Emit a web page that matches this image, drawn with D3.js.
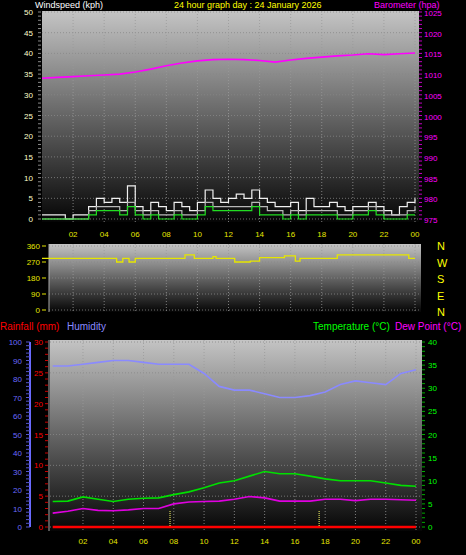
<!DOCTYPE html><html><head><meta charset="utf-8">
<script src="https://cdn.jsdelivr.net/npm/d3@7"></script>
<style>body{margin:0;background:#000}svg{display:block;font-family:"Liberation Sans",Arial,sans-serif}</style>
</head><body><svg id="c" width="466" height="555"></svg><script>
const hourTicks=[2,4,6,8,10,12,14,16,18,20,22,24];
const halfHours=d3.range(0,24.01,0.5);
const hours=d3.range(0,25);
const windGust=[1,1,1,0,1,1,3,5,4,5,4,8,3,2,4,3,2,4,3,2,4,7,5,4,5,6,5,7,5,4,3,3,4,2,5,3,3,4,3,2,3,3,4,3,2,1,3,4,5];
const windAvg=[0,0,0,0,0,0,2,3,3,3,2,4,2,1,2,1,1,2,1,1,2,4,3,3,3,3,3,4,3,2,2,1,2,1,2,2,2,2,1,1,2,2,3,2,1,1,1,2,3];
const windGreen=[0,0,0,0,0,0,1,2,2,2,1,3,1,0,1,0,0,1,0,0,1,3,2,2,2,2,2,3,1,1,1,0,1,0,1,1,1,1,0,0,1,1,2,1,0,0,0,1,1];
const baro=[1009,1009.2,1009.4,1009.6,1009.8,1010,1010.5,1011.2,1012,1012.7,1013.2,1013.5,1013.6,1013.5,1013.3,1012.9,1013.4,1013.8,1014.1,1014.4,1014.6,1014.9,1014.7,1014.9,1015.1];
const dirT=[0,4.8,5.2,5.6,6,9.2,9.8,11,11.2,12.4,13.4,14,15.6,16.3,16.6,19,23.6,24];
const dirV=[290,270,290,270,290,310,290,300,290,270,275,295,305,275,290,310,290,290];
const humidity=[87,87,88,89,90,90,89,88,88,88,83,76,74,74,72,70,70,71,73,77,79,78,77,83,85];
const temperature=[5.5,5.6,6.5,6,5.5,6,6.2,6.3,7,7.6,8.5,9.5,10,11,12,11.5,11.5,11,10.4,10,10,10,9.5,9,8.8];
const dewPoint=[3,3.4,4,3.6,3.5,3.7,4,4,5,5.4,5.5,5.6,6,6.6,6.3,5.6,5.6,5.6,6,6,5.7,6,6,5.9,5.8];
const rainfall=hours.map(()=>0);
const svg=d3.select("#c");
const defs=svg.append("defs");
const g=defs.append("linearGradient").attr("id","bg").attr("x1",0).attr("y1",0).attr("x2",0).attr("y2",1);
g.append("stop").attr("offset","0%").attr("stop-color","#c4c4c4");
g.append("stop").attr("offset","100%").attr("stop-color","#050505");
const fmtH=h=>d3.format("02")(h%24);
function panel(x0,x1,y0,y1,xl,xr,yTicks,yScale,xs){
  svg.append("rect").attr("x",xl).attr("y",y0).attr("width",xr-xl).attr("height",y1-y0).attr("fill","url(#bg)");
  svg.append("g").selectAll("line").data(yTicks).join("line").attr("x1",xl).attr("x2",xr).attr("y1",d=>yScale(d)).attr("y2",d=>yScale(d)).attr("stroke","#888").attr("stroke-dasharray","1,2").attr("stroke-width",0.8);
  svg.append("g").selectAll("line").data(hourTicks).join("line").attr("x1",d=>xs(d)).attr("x2",d=>xs(d)).attr("y1",y0).attr("y2",y1).attr("stroke","#999").attr("stroke-dasharray","1,2").attr("stroke-width",0.8);
}
function xLabels(xs,y){svg.append("g").selectAll("text").data(hourTicks).join("text").attr("x",d=>xs(d)).attr("y",y).attr("text-anchor","middle").attr("fill","#e6e600").attr("font-size",8).text(fmtH);}
function yLabels(ticks,ys,x,anchor,col,off){off=off||3;svg.append("g").selectAll("text").data(ticks).join("text").attr("x",x).attr("y",d=>ys(d)+off).attr("text-anchor",anchor).attr("fill",col).attr("font-size",8).text(d=>d);}
function minorTicks(ticks,ys,x,dx,col){svg.append("g").selectAll("line").data(ticks).join("line").attr("x1",x).attr("x2",x+dx).attr("y1",d=>ys(d)).attr("y2",d=>ys(d)).attr("stroke",col).attr("stroke-width",1);}
// ---- top panel
const x1=d3.scaleLinear().domain([0,24]).range([42,415]);
const yW=d3.scaleLinear().domain([0,50]).range([219,12]);
const yB=d3.scaleLinear().domain([975,1025]).range([219,12]);
panel(0,0,11,222,42,419,d3.range(0,51,5),yW,x1);
minorTicks(d3.range(0,51,1),yW,38,3,"#888");
minorTicks(d3.range(975,1026,1),yB,419,3,"#c000c0");
yLabels(d3.range(0,51,5),yW,33,"end","#ffffcc");
yLabels(d3.range(975,1026,5),yB,424,"start","#ff00ff",4);
xLabels(x1,237);
const stepW=d3.line().x((d,i)=>x1(halfHours[i])).y(d=>yW(d)).curve(d3.curveStepAfter);
svg.append("path").attr("d",stepW(windGust)).attr("fill","none").attr("stroke","#f0f0f0").attr("stroke-width",1.2);
svg.append("path").attr("d",stepW(windAvg)).attr("fill","none").attr("stroke","#b8b8b8").attr("stroke-width",1.2);
svg.append("path").attr("d",stepW(windGreen)).attr("fill","none").attr("stroke","#22dd22").attr("stroke-width",1.2);
svg.append("path").attr("d",d3.line().x((d,i)=>x1(hours[i])).y(d=>yB(d))(baro)).attr("fill","none").attr("stroke","#ff00ff").attr("stroke-width",1.6);
svg.append("text").attr("x",35).attr("y",8).attr("fill","#fff").attr("font-size",9).text("Windspeed (kph)");
svg.append("text").attr("x",174).attr("y",8).attr("fill","#ffff00").attr("font-size",9).text("24 hour graph day : 24 January 2026");
svg.append("text").attr("x",374).attr("y",8).attr("fill","#ff00ff").attr("font-size",9).text("Barometer (hpa)");
// ---- direction panel
const yD=d3.scaleLinear().domain([0,360]).range([310,246]);
panel(0,0,244,312,49,421,[0,90,180,270,360],yD,x1);
svg.append("line").attr("x1",49).attr("x2",49).attr("y1",244).attr("y2",312).attr("stroke","#aaa");
yLabels([0,90,180,270,360],yD,40,"end","#e6e600");
minorTicks([0,90,180,270,360],yD,42,4,"#e6e600");
svg.append("path").attr("d",d3.line().x((d,i)=>x1(dirT[i])).y(d=>yD(d)).curve(d3.curveStepAfter)(dirV)).attr("fill","none").attr("stroke","#e6e600").attr("stroke-width",1.3);
svg.append("g").selectAll("text").data(["N","W","S","E","N"]).join("text").attr("x",437).attr("y",(d,i)=>250+i*16.5).attr("fill","#ffff00").attr("font-size",11).text(d=>d);
// ---- bottom panel
const x3=d3.scaleLinear().domain([0,24]).range([52.7,416]);
const yH=d3.scaleLinear().domain([0,100]).range([527,342]);
const yT=d3.scaleLinear().domain([0,40]).range([527,342]);
const yR=d3.scaleLinear().domain([0,30]).range([527,342]);
panel(0,0,340,531,50,422,d3.range(0,31,5),yR,x3);
svg.append("line").attr("x1",30).attr("x2",30).attr("y1",342).attr("y2",527).attr("stroke","#6a6aff").attr("stroke-width",2);
svg.append("line").attr("x1",49).attr("x2",49).attr("y1",340).attr("y2",531).attr("stroke","#aaa");
minorTicks(d3.range(0,101,2),yH,26,4,"#5555cc");
minorTicks(d3.range(0,31,1),yR,45,3,"#cc0000");
minorTicks(d3.range(0,41,1),yT,422,3,"#00aa00");
yLabels(d3.range(0,101,10),yH,22,"end","#6a6aff");
yLabels(d3.range(0,31,5),yR,43,"end","#ff0000");
yLabels(d3.range(0,41,5),yT,428,"start","#00ff00");
xLabels(x3,544);
const lh=s=>d3.line().x((d,i)=>x3(hours[i])).y(d=>s(d));
svg.append("path").attr("d",lh(yH)(humidity)).attr("fill","none").attr("stroke","#8a8aff").attr("stroke-width",1.6);
svg.append("path").attr("d",lh(yT)(temperature)).attr("fill","none").attr("stroke","#00e000").attr("stroke-width",1.6);
svg.append("path").attr("d",lh(yT)(dewPoint)).attr("fill","none").attr("stroke","#e000e0").attr("stroke-width",1.6);
svg.append("path").attr("d",lh(yR)(rainfall)).attr("fill","none").attr("stroke","#ff0000").attr("stroke-width",2.5);
[7.75,17.6].forEach(h=>svg.append("line").attr("x1",x3(h)).attr("x2",x3(h)).attr("y1",511).attr("y2",527).attr("stroke","#ffff66").attr("stroke-dasharray","1,1"));
svg.append("text").attr("x",0).attr("y",330).attr("fill","#ff0000").attr("font-size",10).text("Rainfall (mm)");
svg.append("text").attr("x",67).attr("y",330).attr("fill","#8a8aff").attr("font-size",10).text("Humidity");
svg.append("text").attr("x",313).attr("y",330).attr("fill","#00ff00").attr("font-size",10).text("Temperature (°C)");
svg.append("text").attr("x",395).attr("y",330).attr("fill","#ff00ff").attr("font-size",10).text("Dew Point (°C)");
</script></body></html>
